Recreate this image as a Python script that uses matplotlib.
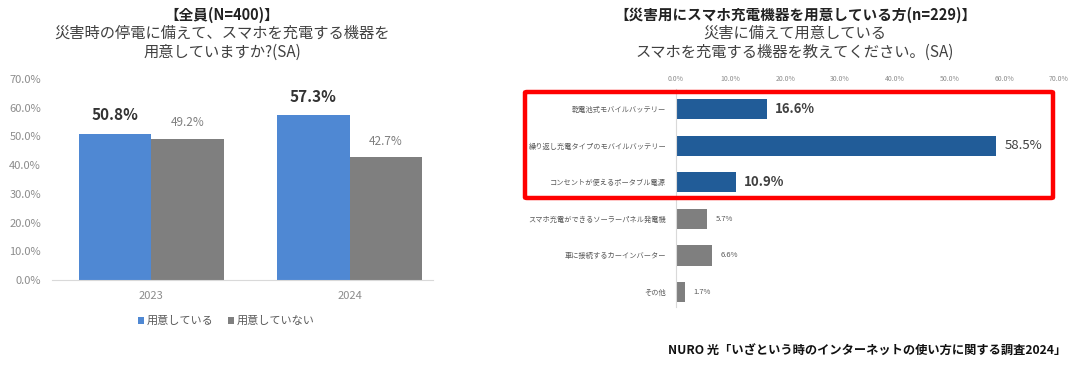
import matplotlib
matplotlib.use("Agg")
import matplotlib.pyplot as plt
from matplotlib.patches import FancyBboxPatch
import numpy as np

plt.rcParams['font.family'] = ['Noto Sans CJK JP', 'DejaVu Sans']

# ---------------- data ----------------
years = ["2023", "2024"]
prepared = [50.8, 57.3]          # 用意している
not_prepared = [49.2, 42.7]      # 用意していない
series_names = ["用意している", "用意していない"]

devices = [
    "乾電池式モバイルバッテリー",
    "繰り返し充電タイプのモバイルバッテリー",
    "コンセントが使えるポータブル電源",
    "スマホ充電ができるソーラーパネル発電機",
    "車に接続するカーインバーター",
    "その他",
]
device_values = [16.6, 58.5, 10.9, 5.7, 6.6, 1.7]
highlight = [True, True, True, False, False, False]

left_ticks = [0, 10, 20, 30, 40, 50, 60, 70]
right_ticks = [0, 10, 20, 30, 40, 50, 60, 70]

title_left = ["【全員(N=400)】", "災害時の停電に備えて、スマホを充電する機器を", "用意していますか?(SA)"]
title_right = ["【災害用にスマホ充電機器を用意している方(n=229)】", "災害に備えて用意している",
               "スマホを充電する機器を教えてください。(SA)"]
footer = "NURO 光「いざという時のインターネットの使い方に関する調査2024」"

# ---------------- style ----------------
BLUE = "#4F88D3"
GRAY = "#7F7F7F"
DARKBLUE = "#215C98"
TXT = "#595959"

W, H = 1086, 371
fig = plt.figure(figsize=(W / 100, H / 100), dpi=100)

def fx(px):
    return px / W

def fy(py):
    return 1 - py / H

# ---------------- left chart ----------------
axL = fig.add_axes([fx(52), fy(280), fx(433) - fx(52), fy(79) - fy(280)])
x = np.arange(len(years))
bw = 0.365
axL.bar(x - bw / 2, prepared, bw, color=BLUE, label=series_names[0])
axL.bar(x + bw / 2, not_prepared, bw, color=GRAY, label=series_names[1])
axL.set_xlim(-0.5, 1.42)
axL.set_ylim(0, 70)
axL.set_yticks(left_ticks)
axL.set_yticklabels([f"{t:.1f}%" for t in left_ticks], fontsize=8, color="#8C8C8C")
axL.set_xticks(x)
axL.set_xticklabels(years, fontsize=8, color="#8C8C8C")
axL.tick_params(length=0, axis='both')
axL.tick_params(axis='y', pad=8)
axL.tick_params(axis='x', pad=8)
for s in ["top", "right", "left"]:
    axL.spines[s].set_visible(False)
axL.spines["bottom"].set_color("#D9D9D9")
for xi, v in zip(x, prepared):
    axL.annotate(f"{v:.1f}%", (xi - bw / 2, v), xytext=(0, 13.5), textcoords="offset points",
                 ha="center", va="center", fontsize=11, fontweight="bold", color="#333333")
for xi, v in zip(x, not_prepared):
    axL.annotate(f"{v:.1f}%", (xi + bw / 2, v), xytext=(0, 11.5), textcoords="offset points",
                 ha="center", va="center", fontsize=8.5, color="#7F7F7F")
axL.legend(loc="center", bbox_to_anchor=(fx(226), fy(321)), bbox_transform=fig.transFigure,
           ncol=2, frameon=False, fontsize=8, labelcolor=TXT, handlelength=0.6, handleheight=0.6,
           handletextpad=0.2, columnspacing=1.3)

# ---------------- right chart ----------------
axR = fig.add_axes([fx(676), fy(306.7), fx(1059) - fx(676), fy(88.9) - fy(306.7)])
y = np.arange(len(devices))
colors = [DARKBLUE if h else GRAY for h in highlight]
axR.barh(y, device_values, height=0.55, color=colors)
axR.set_xlim(0, 70)
axR.set_ylim(5.4, -0.55)
axR.xaxis.tick_top()
axR.set_xticks(right_ticks)
axR.set_xticklabels([f"{t:.1f}%" for t in right_ticks], fontsize=5, color="#8C8C8C")
axR.set_yticks(y)
axR.set_yticklabels(devices, fontsize=5.2, color=TXT)
axR.tick_params(length=0, axis='both')
axR.tick_params(axis='y', pad=7)
axR.tick_params(axis='x', pad=4)
for s in ["top", "right", "bottom"]:
    axR.spines[s].set_visible(False)
axR.spines["left"].set_color("#D9D9D9")
for yi, v, h in zip(y, device_values, highlight):
    if h:
        axR.annotate(f"{v:.1f}%", (v, yi), xytext=(6, 0), textcoords="offset points",
                     ha="left", va="center", fontsize=9.5,
                     fontweight="bold" if v < 50 else "normal", color="#404040")
    else:
        axR.annotate(f"{v:.1f}%", (v, yi), xytext=(6, 0), textcoords="offset points",
                     ha="left", va="center", fontsize=5.5, color=TXT)

# red highlight box
box = FancyBboxPatch((fx(525), fy(198)), fx(1053) - fx(525), fy(92) - fy(198),
                     boxstyle="round,pad=0,rounding_size=0.002", transform=fig.transFigure,
                     fill=False, edgecolor="#FF0000", linewidth=3.2)
fig.patches.append(box)

# ---------------- titles ----------------
for i, (t, yy) in enumerate(zip(title_left, [15, 33, 52])):
    fig.text(fx(222), fy(yy), t, ha="center", va="center", fontsize=10.5 if i == 0 else 11,
             fontweight="bold" if i == 0 else "normal",
             color="#222222" if i == 0 else "#404040")
for i, (t, yy) in enumerate(zip(title_right, [15, 33, 52])):
    fig.text(fx(795), fy(yy), t, ha="center", va="center", fontsize=10.5 if i == 0 else 11,
             fontweight="bold" if i == 0 else "normal",
             color="#222222" if i == 0 else "#404040")

fig.text(fx(1066), fy(351), footer, ha="right", va="center", fontsize=8.8,
         fontweight="bold", color="#111111")

fig.savefig("out.png", dpi=100)
